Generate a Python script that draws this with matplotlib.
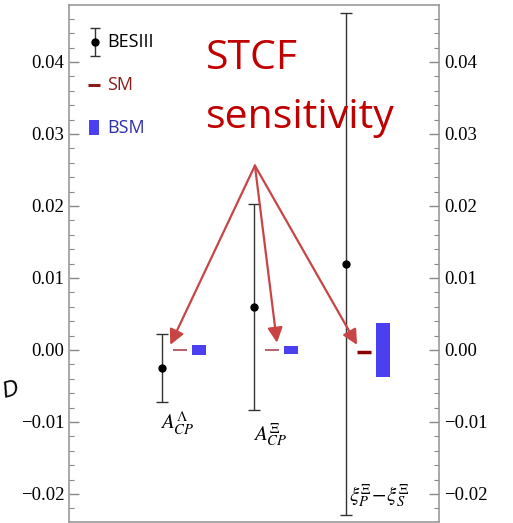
import numpy as np
import matplotlib
matplotlib.use("Agg")
import matplotlib.pyplot as plt
from matplotlib.ticker import MultipleLocator, FuncFormatter
from matplotlib.patches import Rectangle

plt.rcParams['mathtext.fontset'] = 'stix'

# observables
labels = [r"$A_{CP}^{\Lambda}$", r"$A_{CP}^{\Xi}$", r"$\xi_P^{\Xi}\!-\!\xi_S^{\Xi}$"]
# BESIII measurement: central value, upper and lower ends of the error bar
bes_val = [-0.0025, 0.0060, 0.0120]
bes_hi = [0.0022, 0.0203, 0.0468]
bes_lo = [-0.0072, -0.0083, -0.0229]
# SM prediction
sm_val = [0.0, 0.0, -0.0003]
# BSM range
bsm_lo = [-0.0007, -0.0006, -0.0037]
bsm_hi = [0.0007, 0.0006, 0.0038]

pos = np.arange(1, len(labels) + 1)
red = '#c00000'
arrow_col = '#c94444'
blue = '#4b40f0'

fig = plt.figure(figsize=(5.13, 5.23), dpi=100)
ax = fig.add_axes([0.1345, 0.0019, 0.7212, 0.9885])

yerr = [np.array(bes_val) - np.array(bes_lo), np.array(bes_hi) - np.array(bes_val)]
ax.errorbar(pos, bes_val, yerr=yerr, fmt='o', color='black', ecolor='#333333',
            elinewidth=1.0, capsize=4.5, capthick=1.0, markersize=5)

for i, p in enumerate(pos):
    last = i == len(pos) - 1
    ax.plot([p + 0.12, p + 0.27], [sm_val[i], sm_val[i]],
            color='#8b0000' if last else '#b5606a', lw=2.5 if last else 1.4,
            solid_capstyle='butt')
    ax.add_patch(Rectangle((p + 0.33, bsm_lo[i]), 0.15, bsm_hi[i] - bsm_lo[i],
                           facecolor=blue, edgecolor='none'))

# observable labels
lab_y = [-0.0102, -0.0118, -0.0202]
lab_dx = [0.17, 0.18, 0.36]
for i, p in enumerate(pos):
    ax.text(p + lab_dx[i], lab_y[i], labels[i], fontsize=15, ha='center', va='center')

# STCF arrows
apex = (2.01, 0.0256)
tips = [(pos[0] + 0.09, 0.0007), (pos[1] + 0.25, 0.0010), (pos[2] + 0.12, 0.0007)]
for t in tips:
    ax.annotate('', xy=t, xytext=apex,
                arrowprops=dict(arrowstyle='-|>,head_length=0.9,head_width=0.45',
                                color=arrow_col, lw=1.6, shrinkA=0, shrinkB=0))

ax.text(0.370, 0.876, "STCF", transform=ax.transAxes, color=red,
        fontsize=29.5, family='Open Sans', va='baseline', ha='left')
ax.text(0.370, 0.762, "sensitivity", transform=ax.transAxes, color=red,
        fontsize=29.5, family='Open Sans', va='baseline', ha='left')

# hand-made legend
ax.errorbar([0.0703], [0.9284], yerr=[0.0271], fmt='o', color='black', ecolor='#333333',
            elinewidth=1.0, capsize=3.5, markersize=5, transform=ax.transAxes)
ax.plot([0.0514, 0.0838], [0.8453, 0.8453], color='#8b1a1a', lw=2.2,
        transform=ax.transAxes, solid_capstyle='butt')
ax.add_patch(Rectangle((0.054, 0.7485), 0.027, 0.029, facecolor=blue,
                       edgecolor='none', transform=ax.transAxes))
ax.text(0.1027, 0.9284, "BESIII", transform=ax.transAxes, fontsize=13,
        family='Open Sans', va='center', color='black')
ax.text(0.1027, 0.8453, "SM", transform=ax.transAxes, fontsize=13,
        family='Open Sans', va='center', color='#8b1a1a')
ax.text(0.1027, 0.762, "BSM", transform=ax.transAxes, fontsize=13,
        family='Open Sans', va='center', color='#2e2ea8')

ax.set_xlim(-0.01, 4.01)
ax.set_ylim(-0.0239, 0.0479)
ax.set_xticks([])
ax.yaxis.set_major_locator(MultipleLocator(0.01))
ax.yaxis.set_minor_locator(MultipleLocator(0.002))
ax.yaxis.set_major_formatter(FuncFormatter(lambda v, _: f"{v:.2f}".replace('-', '\u2212')))
ax.tick_params(axis='y', which='both', direction='in', left=True, right=True,
               labelleft=True, labelright=True, color='#888888',
               labelfontfamily='Liberation Serif')
ax.tick_params(axis='y', which='major', length=7, width=1.0, labelsize=13.5)
ax.tick_params(axis='y', which='minor', length=3.5, width=0.8)
for s in ax.spines.values():
    s.set_color('#999999')
    s.set_linewidth(1.2)

fig.text(0.0, 0.255, "D", fontsize=15, style='italic', rotation=15, va='center')

fig.savefig("out.png", dpi=100)
